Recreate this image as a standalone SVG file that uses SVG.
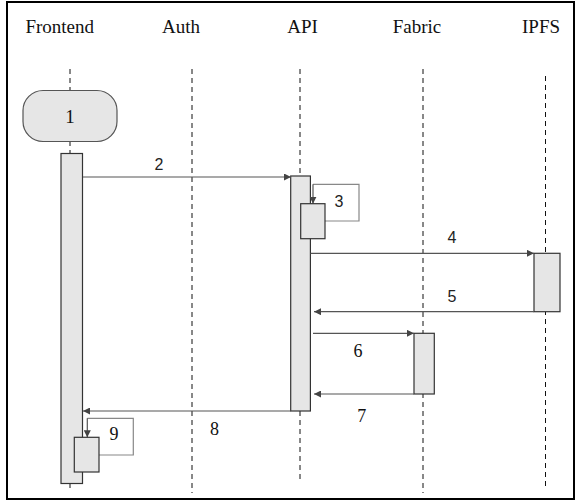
<svg xmlns="http://www.w3.org/2000/svg" width="576" height="502" viewBox="0 0 576 502">
<style>
.title{font-family:"Liberation Serif","Times New Roman",serif;font-size:19px;fill:#111;text-anchor:middle}
.ser{font-family:"Liberation Serif","Times New Roman",serif;font-size:18px;fill:#111;text-anchor:middle}
.sans{font-family:"Liberation Sans",Arial,sans-serif;font-size:16px;fill:#222;text-anchor:middle}
.life{stroke:#111;stroke-width:1;stroke-dasharray:5,4;fill:none}
.act{fill:#e6e6e6;stroke:#333;stroke-width:1.2}
.msg{stroke:#555;stroke-width:1.2;fill:none;marker-end:url(#ah)}
.loop{stroke:#888;stroke-width:1.2;fill:none}
</style>
<defs>
<marker id="ah" viewBox="0 0 10 10" refX="10" refY="5" markerWidth="7" markerHeight="7" markerUnits="userSpaceOnUse" orient="auto">
<path d="M0,0 L10,5 L0,10 z" fill="#444"/>
</marker>
</defs>
<rect x="7" y="2" width="567" height="497" fill="#fff" stroke="#000" stroke-width="2"/>
<g id="lifelines">
<line class="life" x1="70" y1="69" x2="70" y2="492"/>
<line class="life" x1="192" y1="69" x2="192" y2="493"/>
<line class="life" x1="300" y1="69" x2="300" y2="483"/>
<line class="life" x1="423" y1="69" x2="423" y2="493"/>
<line class="life" x1="545.5" y1="76" x2="545.5" y2="490"/>
</g>
<g id="Frontend"><text class="title" x="59.7" y="33">Frontend</text></g>
<g id="Auth"><text class="title" x="181" y="33">Auth</text></g>
<g id="API"><text class="title" x="302.6" y="33">API</text></g>
<g id="Fabric"><text class="title" x="417" y="33">Fabric</text></g>
<g id="IPFS"><text class="title" x="541" y="33">IPFS</text></g>
<g id="node1">
<rect x="23" y="90.5" width="94" height="51" rx="20" ry="20" fill="#e6e6e6" stroke="#555" stroke-width="1.2"/>
<text class="ser" x="70" y="123" style="font-size:19px">1</text>
</g>
<g id="act-frontend"><rect class="act" x="61" y="153.5" width="21.5" height="330"/></g>
<g id="act-api"><rect class="act" x="290.7" y="176" width="19.7" height="235"/></g>
<g id="act-ipfs"><rect class="act" x="534" y="253.3" width="26" height="58.4"/></g>
<g id="act-fabric"><rect class="act" x="414" y="333.3" width="20.3" height="60.7"/></g>
<g id="connectors">
<line class="msg" x1="83" y1="177" x2="291" y2="177"/>
<path class="loop" d="M325,221 H359 V184.3 H313"/>
<path class="msg" d="M313,184.3 V203.7"/>
<line class="msg" x1="310.5" y1="253.3" x2="534" y2="253.3"/>
<line class="msg" x1="534" y1="311.7" x2="314" y2="311.7"/>
<line class="msg" x1="313" y1="333.3" x2="414" y2="333.3"/>
<line class="msg" x1="414" y1="394" x2="314" y2="394"/>
<line class="msg" x1="290.7" y1="411" x2="83" y2="411"/>
<path class="loop" d="M99,455 H133.3 V418.3 H87.3"/>
<path class="msg" d="M87.3,418.3 V437.3"/>
</g>
<g id="act-api-self"><rect class="act" x="300.7" y="203.7" width="24.3" height="35"/></g>
<g id="act-frontend-self"><rect class="act" x="74.3" y="437.3" width="24.7" height="34.7"/></g>
<g id="labels">
<text class="sans" x="159" y="170">2</text>
<text class="sans" x="339" y="207">3</text>
<text class="sans" x="452" y="243">4</text>
<text class="sans" x="452" y="302">5</text>
<text class="ser" x="358" y="357">6</text>
<text class="ser" x="361.7" y="422">7</text>
<text class="ser" x="214.5" y="435">8</text>
<text class="ser" x="114" y="440">9</text>
</g>
</svg>
